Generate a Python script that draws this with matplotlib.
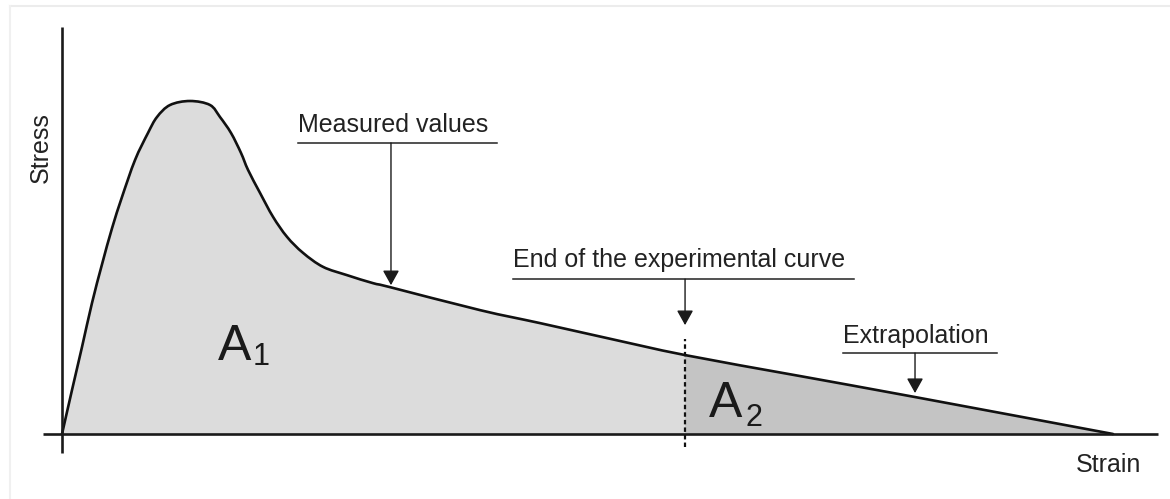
import numpy as np
import matplotlib
matplotlib.use("Agg")
import matplotlib.pyplot as plt
from matplotlib.lines import Line2D
from matplotlib.path import Path
from matplotlib.patches import PathPatch

plt.rcParams['font.family'] = ['Liberation Sans', 'DejaVu Sans']

# curve (strain in arbitrary units, stress in % of peak)
measured_strain = [0.0, 0.095, 0.19, 0.285, 0.381, 0.476, 0.571, 0.695, 0.818, 0.904,
	1.028, 1.218, 1.408, 1.503, 1.608, 1.703, 1.77, 1.884, 2.008, 2.141,
	2.293, 2.483, 2.712, 2.959, 3.121, 3.977, 4.548, 5.186, 5.928]
measured_stress = [0.0, 13.2, 26.1, 39.3, 51.0, 61.8, 71.2, 82.3, 90.4, 95.2,
	98.8, 100.0, 98.8, 95.2, 90.4, 84.4, 79.3, 72.4, 65.2, 59.2,
	54.4, 50.2, 47.7, 45.3, 44.1, 37.2, 33.3, 28.8, 23.7]
extrap_strain = [5.928, 7.022, 8.116, 10.0]
extrap_stress = [23.7, 17.4, 11.1, 0.0]

# labels with the point each arrow hits
labels = ['Measured values', 'End of the experimental curve', 'Extrapolation']
label_x = [2.245, 4.291, 7.431]        # left end of text / underline
label_y = [90.7, 50.2, 27.3]           # text baseline
underline_end = [4.139, 7.536, 8.896]
underline_y = [87.4, 46.5, 24.3]
arrow_x = [3.13, 5.928, 8.116]
arrow_tip = [44.7, 32.7, 12.3]

end_strain = measured_strain[-1]


def bezier_segments(pts):
	# catmull-rom through the read points, as cubic bezier pieces
	segs = []
	for i in range(len(pts) - 1):
		p0 = pts[i - 1] if i > 0 else pts[i]
		p1 = pts[i]
		p2 = pts[i + 1]
		p3 = pts[i + 2] if i + 2 < len(pts) else pts[i + 1]
		segs.append([p1 + (p2 - p0) / 6.0, p2 - (p3 - p1) / 6.0, p2])
	return segs


pts = np.column_stack([measured_strain + extrap_strain[1:], measured_stress + extrap_stress[1:]])
segs = bezier_segments(pts)
k = len(measured_strain) - 1

fig = plt.figure(figsize=(11.7, 4.99), dpi=100)
ax = fig.add_axes([0, 0, 1, 1])
ax.set_xlim(-0.59, 10.542)
ax.set_ylim(-19.52, 130.33)
ax.axis('off')

# faint frame of the original picture
fig.add_artist(Line2D([10/1170, 1], [1-6/499, 1-6/499], color='#ececec', lw=1.5))
fig.add_artist(Line2D([10/1170, 10/1170], [0, 1-6/499], color='#f0f0f0', lw=1.5))

# A1 and A2 areas
verts = [pts[0]]
codes = [Path.MOVETO]
for s in segs[:k]:
	verts += s
	codes += [Path.CURVE4] * 3
verts += [(end_strain, 0), (0, 0), (0, 0)]
codes += [Path.LINETO, Path.LINETO, Path.CLOSEPOLY]
ax.add_patch(PathPatch(Path(verts, codes), facecolor='#dcdcdc', lw=0))

verts = [pts[k]]
codes = [Path.MOVETO]
for s in segs[k:]:
	verts += s
	codes += [Path.CURVE4] * 3
verts += [(end_strain, 0), (end_strain, 0)]
codes += [Path.LINETO, Path.CLOSEPOLY]
ax.add_patch(PathPatch(Path(verts, codes), facecolor='#c4c4c4', lw=0))

# axes
ax.plot([-0.181, 10.428], [0, 0], color='#1a1a1a', lw=1.9, solid_capstyle='butt')
ax.plot([0, 0], [-5.7, 122.2], color='#1a1a1a', lw=1.9, solid_capstyle='butt')

# stress-strain curve
verts = [pts[0]]
codes = [Path.MOVETO]
for s in segs:
	verts += s
	codes += [Path.CURVE4] * 3
ax.add_patch(PathPatch(Path(verts, codes), facecolor='none', edgecolor='#111111', lw=1.9,
	joinstyle='round', capstyle='round'))

ax.plot([end_strain, end_strain], [-3.9, 28.5], color='#111111', lw=1.6, ls=(0, (2, 1.4)))

for i in range(len(labels)):
	ax.text(label_x[i], label_y[i], labels[i], fontsize=18, color='#222222', ha='left', va='baseline')
	ax.plot([label_x[i], underline_end[i]], [underline_y[i], underline_y[i]], color='#222222', lw=1.1)
	ax.annotate('', xy=(arrow_x[i], arrow_tip[i]), xytext=(arrow_x[i], underline_y[i]),
		arrowprops=dict(arrowstyle='-|>,head_length=0.45,head_width=0.25', mutation_scale=20,
			color='#1a1a1a', lw=1.0, shrinkA=0, shrinkB=0))

ax.text(1.484, 22.2, 'A', fontsize=36, color='#1a1a1a', ha='left', va='baseline')
ax.text(1.817, 20.7, '1', fontsize=22, color='#1a1a1a', ha='left', va='baseline')
ax.text(6.156, 5.1, 'A', fontsize=36, color='#1a1a1a', ha='left', va='baseline')
ax.text(6.499, 2.4, '2', fontsize=22, color='#1a1a1a', ha='left', va='baseline')

ax.text(-0.2, 86.0, 'Stress', fontsize=18, color='#222222', rotation=90, ha='center', va='center')
ax.text(9.648, -11.4, 'Strain', fontsize=18, color='#222222', ha='left', va='baseline')

fig.savefig('out.png', dpi=100)
